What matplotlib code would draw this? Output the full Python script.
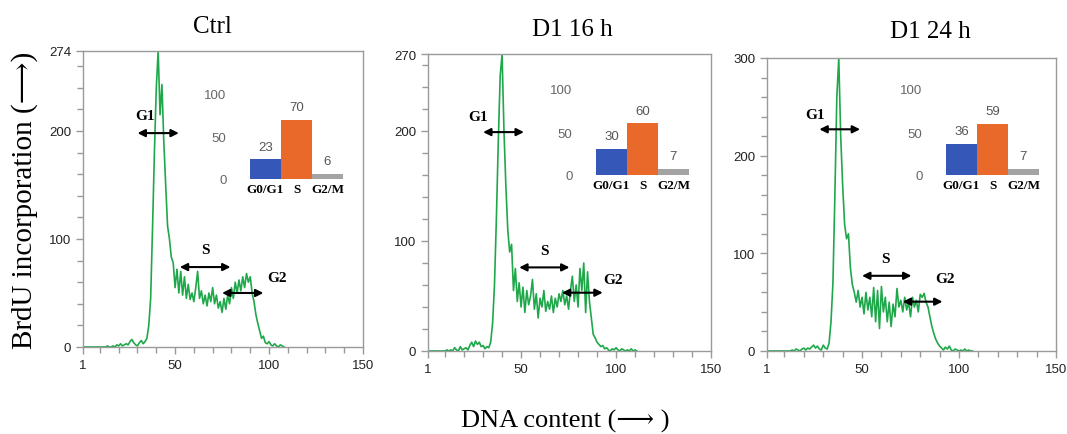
import matplotlib
matplotlib.use("Agg")
import matplotlib.pyplot as plt
from matplotlib.ticker import FixedLocator, MultipleLocator

W, H = 1067, 435

# Data
titles = ["Ctrl", "D1 16 h", "D1 24 h"]
y_tops = [274, 270, 300]

# BrdU histogram counts, one value per DNA channel starting at channel 1
ctrl_counts = [
    0, 0, 0, 0, 0, 0, 0, 0, 0, 0, 0, 0, 0, 1, 0, 0, 1, 0, 2, 1,
    3, 1, 2, 3, 2, 5, 7, 4, 2, 1, 4, 6, 3, 5, 8, 20, 45, 110, 180, 240,
    274, 215, 243, 190, 150, 112, 100, 83, 78, 55, 72, 50, 70, 48, 65, 45, 58, 44, 50, 42,
    55, 70, 45, 52, 40, 48, 38, 50, 42, 55, 40, 48, 36, 42, 32, 45, 35, 48, 40, 55,
    45, 60, 50, 62, 52, 65, 55, 68, 60, 65, 50, 42, 30, 22, 15, 8, 10, 4, 3, 5,
    2, 1, 3, 1, 0, 2, 1, 0,
]
d16_counts = [
    0, 0, 0, 0, 0, 0, 0, 0, 0, 0, 1, 0, 1, 0, 3, 1, 0, 4, 1, 2,
    3, 1, 5, 8, 4, 9, 6, 8, 4, 5, 2, 4, 3, 8, 25, 60, 120, 190, 250, 270,
    200, 150, 110, 90, 97, 55, 75, 45, 62, 40, 58, 35, 55, 42, 50, 65, 38, 52, 30, 48,
    40, 55, 36, 45, 38, 50, 35, 48, 40, 52, 45, 55, 42, 50, 38, 55, 68, 45, 60, 40,
    75, 55, 80, 35, 72, 45, 30, 15, 12, 8, 6, 4, 5, 2, 3, 1, 0, 2, 1, 3,
    1, 0, 2, 1, 0, 1, 0, 2, 0, 1, 0,
]
d24_counts = [
    0, 0, 0, 0, 0, 0, 0, 0, 0, 0, 0, 0, 0, 1, 0, 2, 1, 0, 2, 3,
    1, 3, 2, 4, 6, 3, 5, 2, 1, 6, 3, 2, 8, 30, 70, 160, 260, 300, 220, 170,
    130, 115, 120, 85, 68, 60, 50, 62, 45, 55, 38, 60, 42, 55, 35, 65, 30, 62, 23, 66,
    40, 55, 30, 50, 25, 48, 35, 64, 45, 52, 40, 55, 42, 50, 35, 55, 45, 52, 40, 58,
    55, 59, 50, 45, 35, 25, 18, 12, 8, 5, 3, 1, 4, 2, 5, 1, 0, 2, 1, 0,
    1, 0, 2, 0, 1, 0, 0,
]

# cell cycle distribution (%)
phases = ["G0/G1", "S", "G2/M"]
ctrl_pct = [23, 70, 6]
d16_pct = [30, 60, 7]
d24_pct = [36, 59, 7]

# gate arrows: (label, x_start, x_end, y, text_x, text_y)
ctrl_gates = [("G1", 30, 52, 198, 34, 214), ("S", 52.5, 79.5, 74, 66, 90), ("G2", 75, 97, 50, 104, 64)]
d16_gates = [("G1", 30, 51.5, 199, 27.5, 213), ("S", 49, 75.5, 76, 62.5, 91), ("G2", 71.5, 93, 53, 98.5, 65)]
d24_gates = [("G1", 28, 49, 227, 26, 242), ("S", 50, 75.5, 77, 62, 95), ("G2", 71, 91.5, 50.5, 93, 74)]

all_counts = [ctrl_counts, d16_counts, d24_counts]
all_pct = [ctrl_pct, d16_pct, d24_pct]
all_gates = [ctrl_gates, d16_gates, d24_gates]

# pixel boxes (left, top, right, bottom)
main_boxes = [(83, 52, 363, 348), (428, 55, 711, 352), (767, 59, 1056, 352)]
inset_boxes = [(250, 95, 343, 180), (596, 90, 689, 176), (946, 90, 1039, 176)]
title_pos = [(212, 27), (572, 30), (930, 32)]

bar_colors = ["#3558b8", "#e8692a", "#a3a3a3"]
green = "#1fa84a"
frame = "#9a9a9a"
serif = ["Liberation Serif", "DejaVu Serif"]
sans = "Liberation Sans"


def px_box(left, top, right, bottom):
    return [left / W, 1 - bottom / H, (right - left) / W, (bottom - top) / H]


fig = plt.figure(figsize=(W / 100, H / 100), dpi=100)

for i in range(3):
    ax = fig.add_axes(px_box(*main_boxes[i]))
    counts = all_counts[i]
    channels = list(range(1, len(counts) + 1))
    ax.plot(channels, counts, color=green, lw=1.2)
    ax.set_xlim(1, 150)
    ax.set_ylim(0, y_tops[i])

    ax.xaxis.set_major_locator(FixedLocator([1, 50, 100, 150]))
    ax.xaxis.set_minor_locator(MultipleLocator(10))
    ax.yaxis.set_major_locator(FixedLocator([0, 100, 200, y_tops[i]]))
    ax.yaxis.set_minor_locator(MultipleLocator(20))
    ax.tick_params(which="both", direction="out", color=frame, width=1,
                   labelsize=9.5, labelcolor="#222222", top=False, right=False)
    ax.tick_params(which="major", length=5)
    ax.tick_params(which="minor", length=4)
    for lbl in ax.get_xticklabels() + ax.get_yticklabels():
        lbl.set_family(sans)
    for s in ax.spines.values():
        s.set_color(frame)
        s.set_linewidth(1)

    for name, x1, x2, y, tx, ty in all_gates[i]:
        ax.annotate("", xy=(x2, y), xytext=(x1, y),
                    arrowprops=dict(arrowstyle="<|-|>", color="black", lw=1.5,
                                    mutation_scale=11, shrinkA=0, shrinkB=0))
        ax.text(tx, ty, name, ha="center", va="center", fontsize=11,
                fontweight="bold", family=serif)

    tx, ty = title_pos[i]
    fig.text(tx / W, 1 - ty / H, titles[i], ha="center", va="center",
             fontsize=18, family=serif)

    # inset bar chart with phase distribution
    inset = fig.add_axes(px_box(*inset_boxes[i]))
    pct = all_pct[i]
    inset.bar(range(3), pct, width=1, color=bar_colors)
    for j, v in enumerate(pct):
        inset.text(j, v + 8, str(v), ha="center", va="bottom", fontsize=9.5,
                   color="#555555", family=sans)
    inset.set_xlim(-0.5, 2.5)
    inset.set_ylim(0, 100)
    inset.set_yticks([0, 50, 100])
    inset.set_xticks(range(3))
    inset.set_xticklabels(phases, fontsize=9.5, fontweight="bold", family=serif)
    inset.tick_params(axis="y", length=0, pad=17, labelsize=9.5, labelcolor="#666666")
    inset.tick_params(axis="x", length=0, pad=3)
    for lbl in inset.get_yticklabels():
        lbl.set_family(sans)
    for s in inset.spines.values():
        s.set_visible(False)
    inset.patch.set_alpha(0)

fig.text(25 / W, 1 - 200 / H, "BrdU incorporation (\u27f6)", rotation=90,
         ha="center", va="center", fontsize=21, family=serif)
fig.text(565 / W, 1 - 421 / H, "DNA content (\u27f6 )", ha="center", va="center",
         fontsize=19, family=serif)

fig.savefig("out.png", dpi=100)
